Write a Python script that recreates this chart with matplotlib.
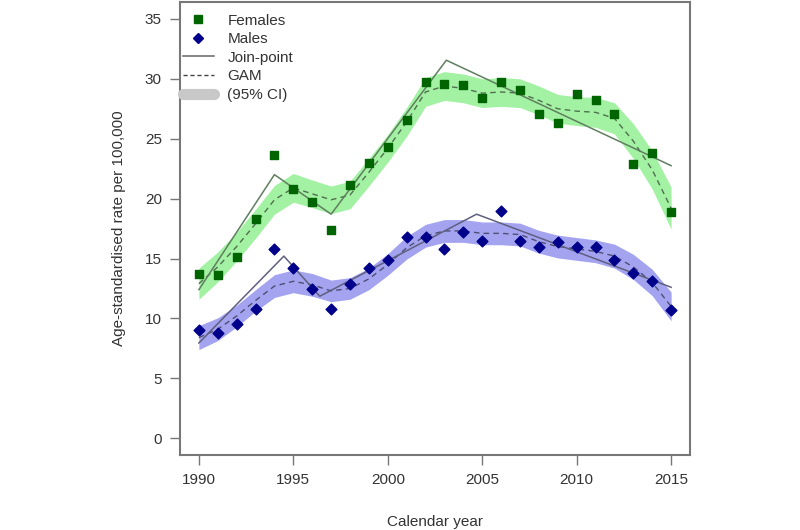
import numpy as np
import matplotlib
matplotlib.use("Agg")
import matplotlib.pyplot as plt
from matplotlib.lines import Line2D

plt.rcParams['font.family'] = ['Liberation Sans', 'DejaVu Sans']

years = list(range(1990, 2016))

# observed age-standardised rates
females = [13.7, 13.6, 15.1, 18.3, 23.6, 20.8, 19.7, 17.4, 21.1, 23.0, 24.3, 26.6, 29.7,
           29.6, 29.5, 28.4, 29.75, 29.1, 27.1, 26.3, 28.75, 28.2, 27.05, 22.9, 23.8, 18.9]
males = [9.0, 8.8, 9.5, 10.75, 15.8, 14.25, 12.45, 10.8, 12.9, 14.2, 14.9, 16.8, 16.8,
         15.8, 17.2, 16.5, 18.95, 16.5, 16.0, 16.4, 16.0, 16.0, 14.9, 13.8, 13.1, 10.7]

# GAM fits and CI half widths
gam_f = [12.9, 14.3, 16.0, 17.9, 19.9, 20.9, 20.4, 19.9, 20.3, 22.2, 24.2, 26.4, 28.9,
         29.4, 29.2, 28.8, 28.9, 28.8, 28.2, 27.5, 27.3, 27.2, 26.7, 24.8, 22.4, 19.2]
ci_f = [1.3, 1.25, 1.2, 1.2, 1.2, 1.2, 1.15, 1.15, 1.15, 1.15, 1.15, 1.2, 1.2, 1.2,
        1.2, 1.2, 1.2, 1.2, 1.2, 1.2, 1.2, 1.25, 1.3, 1.45, 1.6, 1.75]
gam_m = [8.4, 9.1, 10.2, 11.5, 12.7, 13.1, 12.8, 12.3, 12.5, 13.3, 14.5, 15.9, 16.9,
         17.3, 17.3, 17.1, 17.1, 17.0, 16.4, 16.0, 15.8, 15.6, 15.2, 14.3, 13.0, 11.0]
ci_m = [1.0, 0.95, 0.9, 0.9, 0.95, 0.95, 0.95, 0.9, 0.9, 0.9, 0.9, 0.95, 0.95, 0.95,
        0.95, 0.95, 0.95, 0.95, 0.95, 0.95, 0.95, 0.95, 1.0, 1.05, 1.1, 1.2]

# join-point segments
jp_f_x = [1990, 1994, 1997, 2003.1, 2015]
jp_f_y = [12.4, 22.0, 18.7, 31.55, 22.75]
jp_m_x = [1990, 1994.5, 1996.4, 2004.7, 2015]
jp_m_y = [7.95, 15.2, 11.85, 18.7, 12.6]

fig = plt.figure(figsize=(8, 5.3), dpi=100)
ax = fig.add_axes([0.225, 0.1415, 0.6375, 0.8545])

gf = np.array(gam_f); cf = np.array(ci_f)
gm = np.array(gam_m); cm = np.array(ci_m)
ax.fill_between(years, gf - cf, gf + cf, color='#a3f2a3', lw=0, zorder=1)
ax.fill_between(years, gm - cm, gm + cm, color='#a3a3f0', lw=0, zorder=1)

ax.plot(years, gam_f, ls=(0, (4, 3)), color='#4f6f4f', lw=1, zorder=2)
ax.plot(years, gam_m, ls=(0, (4, 3)), color='#4f4f75', lw=1, zorder=2)
ax.plot(jp_f_x, jp_f_y, color='#5f7f5f', lw=1.1, zorder=2)
ax.plot(jp_m_x, jp_m_y, color='#5f5f80', lw=1.1, zorder=2)

ax.scatter(years, females, marker='s', s=34, color='#006400', zorder=3)
ax.scatter(years, males, marker='D', s=30, color='#00008b', zorder=3)

ax.set_xlim(1989, 2016)
ax.set_ylim(-1.4, 36.4)
ax.set_xticks(range(1990, 2016, 5))
ax.set_yticks(range(0, 36, 5))
ax.tick_params(length=7, width=1, color='#777777', labelsize=11, labelcolor='#333333', pad=6)
for s in ax.spines.values():
    s.set_color('#777777')
    s.set_linewidth(1.5)

ax.set_xlabel('Calendar year', fontsize=11, color='#333333', labelpad=20)
ax.set_ylabel('Age-standardised rate per 100,000', fontsize=11, color='#333333', labelpad=14)

handles = [
    Line2D([], [], ls='none', marker='s', ms=6, color='#006400'),
    Line2D([], [], ls='none', marker='D', ms=5.5, color='#00008b'),
    Line2D([], [], color='#666666', lw=1.1),
    Line2D([], [], color='#444444', lw=1, ls=(0, (3, 2))),
    Line2D([], [], color='#c8c8c8', lw=8, solid_capstyle='round'),
]
labels = ['Females', 'Males', 'Join-point', 'GAM', '(95% CI)']
ax.legend(handles, labels, loc='upper left', bbox_to_anchor=(-0.021, 1.005), frameon=False,
          fontsize=11, handlelength=2.0, handletextpad=0.9, labelspacing=0.3,
          labelcolor='#333333')

fig.savefig('out.png', dpi=100)
